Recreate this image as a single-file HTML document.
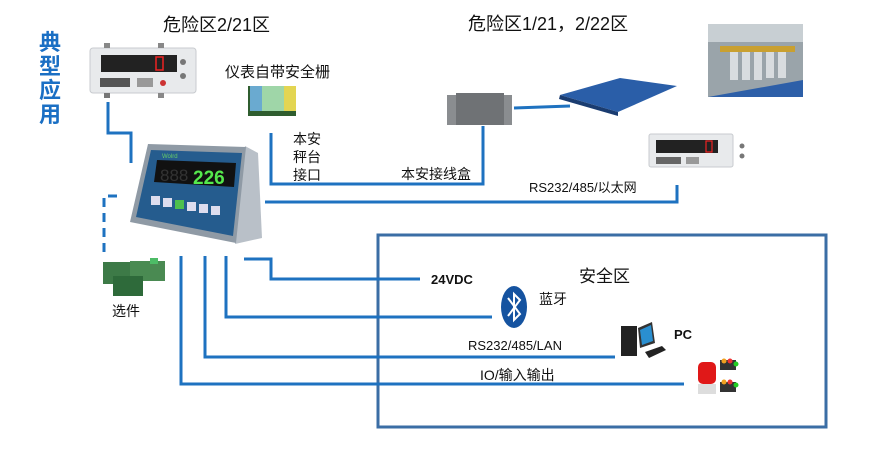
<!DOCTYPE html>
<html><head><meta charset="utf-8"><style>
html,body{margin:0;padding:0;background:#fff;}
svg{display:block;}
text{font-family:"Liberation Sans","Noto Sans CJK SC",sans-serif;fill:#111;}
</style></head><body>
<svg width="896" height="449" viewBox="0 0 896 449" xmlns="http://www.w3.org/2000/svg">
<rect width="896" height="449" fill="#fff"/>
<g font-size="22">
<text x="39" y="50" style="fill:#1a6fc4;font-weight:bold">典</text>
<text x="39" y="74" style="fill:#1a6fc4;font-weight:bold">型</text>
<text x="39" y="98" style="fill:#1a6fc4;font-weight:bold">应</text>
<text x="39" y="122" style="fill:#1a6fc4;font-weight:bold">用</text>
</g>
<text x="163" y="31" font-size="18">危险区2/21区</text>
<text x="468" y="30" font-size="18">危险区1/21，2/22区</text>
<text x="225" y="77" font-size="15">仪表自带安全栅</text>
<text x="293" y="144" font-size="14">本安</text>
<text x="293" y="162" font-size="14">秤台</text>
<text x="293" y="180" font-size="14">接口</text>
<text x="401" y="179" font-size="14">本安接线盒</text>
<text x="529" y="192" font-size="13">RS232/485/以太网</text>
<text x="579" y="282" font-size="17">安全区</text>
<text x="431" y="284" font-size="13" font-weight="bold">24VDC</text>
<text x="539" y="304" font-size="14">蓝牙</text>
<text x="468" y="350" font-size="13">RS232/485/LAN</text>
<text x="674" y="339" font-size="13" font-weight="bold">PC</text>
<text x="480" y="380" font-size="14">IO/输入输出</text>
<text x="112" y="316" font-size="14">选件</text>

<rect x="378" y="235" width="448" height="192" fill="none" stroke="#3b6ea5" stroke-width="3"/>

<g fill="none" stroke="#1e72c0" stroke-width="3">
<polyline points="108,102 108,133 131,133 131,163"/>
<polyline points="271,133 271,184 483,184 483,126"/>
<polyline points="514,108 570,106"/>
<polyline points="265,202 677,202 677,185"/>
<polyline points="244,259 271,259 271,279 420,279"/>
<polyline points="226,256 226,317 492,317"/>
<polyline points="205,256 205,357 615,357"/>
<polyline points="181,256 181,384 684,384"/>
<polyline points="117,196 104,196 104,255" stroke-dasharray="9,6"/>
</g>

<rect x="90" y="48" width="106" height="45" rx="3" fill="#e8eaec" stroke="#c8cbcf"/>
<rect x="101" y="55" width="76" height="17" fill="#222"/>
<rect x="156" y="57" width="7" height="13" fill="none" stroke="#e22" stroke-width="1.5"/>
<rect x="100" y="78" width="30" height="9" fill="#555"/>
<rect x="137" y="78" width="16" height="9" fill="#999"/>
<circle cx="163" cy="83" r="3" fill="#c33"/>
<rect x="104" y="43" width="6" height="5" fill="#888"/><rect x="158" y="43" width="6" height="5" fill="#888"/>
<rect x="104" y="93" width="6" height="5" fill="#777"/><rect x="158" y="93" width="6" height="5" fill="#888"/>
<circle cx="183" cy="62" r="3" fill="#777"/><circle cx="183" cy="76" r="3" fill="#777"/>

<rect x="248" y="86" width="48" height="30" fill="#2f5d2f"/>
<rect x="250" y="86" width="12" height="25" fill="#6aaad0"/>
<rect x="262" y="86" width="22" height="25" fill="#9fd6a8"/>
<rect x="284" y="86" width="12" height="25" fill="#e3d552"/>

<polygon points="245,146 258,153 262,238 235,244" fill="#b9c0c8"/>
<polygon points="148,144 246,147 236,243 130,222" fill="#8f9aa5"/>
<polygon points="151,150 242,153 233,236 136,217" fill="#255c8e"/>
<polygon points="157,160 236,163 234,187 154,182" fill="#111"/>
<text x="193" y="184" font-size="19" font-weight="bold" style="fill:#55e84c">226</text>
<text x="160" y="181" font-size="17" style="fill:#333">888</text>
<g fill="#dde">
<rect x="151" y="196" width="9" height="9"/><rect x="163" y="198" width="9" height="9"/>
<rect x="175" y="200" width="9" height="9" fill="#4ec04e"/><rect x="187" y="202" width="9" height="9"/>
<rect x="199" y="204" width="9" height="9"/><rect x="211" y="206" width="9" height="9"/>
</g>
<text x="162" y="158" font-size="6" style="fill:#6c6">Wolrd</text>

<rect x="447" y="95" width="65" height="30" fill="#8a8d90"/>
<rect x="456" y="93" width="48" height="32" fill="#6f7275"/>

<polygon points="560,95 620,78 677,86 618,112" fill="#2a5ea8"/>
<polygon points="560,95 618,112 618,116 559,99" fill="#1a3c70"/>

<rect x="708" y="24" width="95" height="73" fill="#9aa4aa"/>
<rect x="708" y="24" width="95" height="18" fill="#c8cfd3"/>
<g fill="#d8dcdf"><rect x="730" y="52" width="8" height="28"/><rect x="742" y="50" width="8" height="30"/><rect x="754" y="52" width="8" height="28"/><rect x="766" y="52" width="8" height="26"/><rect x="778" y="52" width="8" height="26"/></g>
<rect x="720" y="46" width="75" height="6" fill="#c9a030"/>
<polygon points="708,97 803,80 803,97" fill="#2d5fa8"/>

<rect x="649" y="134" width="84" height="33" rx="2" fill="#e8eaec" stroke="#c8cbcf"/>
<rect x="656" y="140" width="62" height="13" fill="#222"/>
<rect x="706" y="141" width="6" height="11" fill="none" stroke="#e22" stroke-width="1.2"/>
<rect x="656" y="157" width="25" height="7" fill="#666"/>
<rect x="686" y="157" width="13" height="7" fill="#999"/>
<circle cx="742" cy="146" r="2.5" fill="#777"/><circle cx="742" cy="156" r="2.5" fill="#777"/>

<rect x="103" y="262" width="28" height="22" fill="#3d7a47"/>
<rect x="130" y="261" width="35" height="20" fill="#4a8a52"/>
<rect x="113" y="276" width="30" height="20" fill="#2e6a3a"/>
<rect x="150" y="258" width="8" height="6" fill="#4dbb66"/>

<ellipse cx="514" cy="307" rx="13" ry="21" fill="#1553a0"/>
<polyline points="508,298 520,314 514,320 514,294 520,300 508,316" fill="none" stroke="#fff" stroke-width="2"/>

<rect x="621" y="326" width="16" height="30" fill="#222"/>
<polygon points="638,328 652,322 655,343 640,348" fill="#333"/>
<polygon points="640,330 651,325 653,341 642,345" fill="#2a8fd0"/>
<polygon points="645,352 662,346 666,350 649,358" fill="#222"/>

<rect x="698" y="362" width="18" height="22" rx="5" fill="#e01818"/>
<rect x="698" y="384" width="18" height="10" fill="#ddd"/>
<rect x="720" y="360" width="16" height="10" fill="#333"/>
<circle cx="724" cy="361" r="2.5" fill="#f0a020"/><circle cx="730" cy="361" r="2.5" fill="#e33"/><circle cx="736" cy="364" r="2.5" fill="#2c2"/>
<rect x="720" y="382" width="16" height="10" fill="#333"/>
<circle cx="724" cy="382" r="2.5" fill="#f0a020"/><circle cx="730" cy="382" r="2.5" fill="#e33"/><circle cx="736" cy="385" r="2.5" fill="#2c2"/>
</svg>
</body></html>
